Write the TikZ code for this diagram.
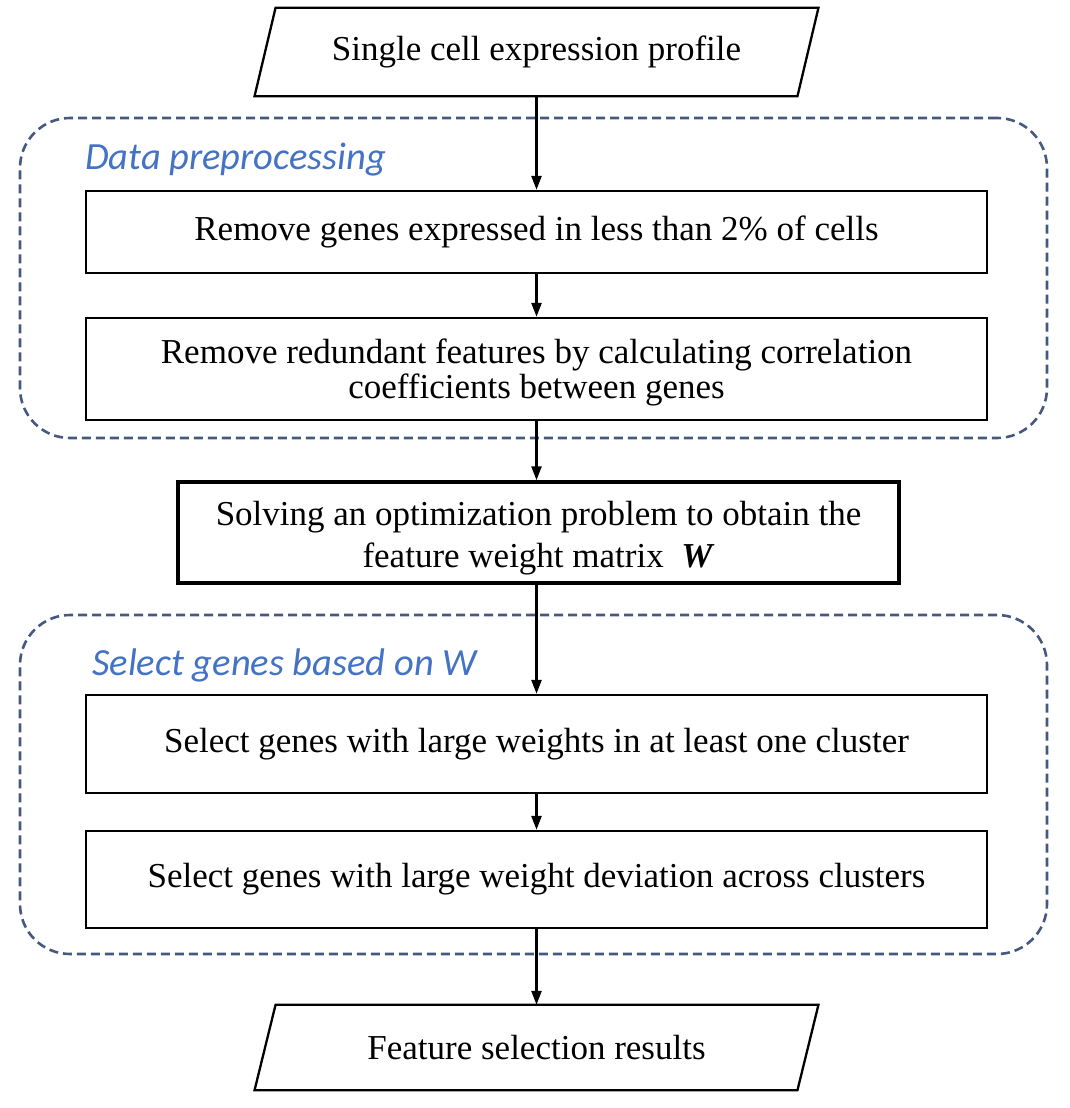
\documentclass[tikz,border=0pt]{standalone}
\usepackage{fontspec}
\setmainfont{Liberation Serif}
\newfontfamily\labelfont{Carlito}
\usetikzlibrary{arrows.meta}
\definecolor{grpline}{RGB}{68,88,128}
\definecolor{grptext}{RGB}{68,114,196}
\newcommand\lowr[2]{\raisebox{-#1}[\height][\depth]{#2}}
\tikzset{
  x=1pt, y=-1pt,
  boxtext/.style={font=\fontsize{35}{38}\selectfont, align=center, inner sep=0pt},
  procbox/.style={boxtext, draw=black, line width=2.3pt, minimum width=901pt},
  keybox/.style={boxtext, draw=black, line width=3.5pt, minimum width=721pt, minimum height=101pt},
  iobox/.style={boxtext, minimum width=542.5pt},
  groupbox/.style={draw=grpline, line width=2.6pt, dash pattern=on 9pt off 5pt, rounded corners=50pt, inner sep=0pt},
  grouplabel/.style={font=\labelfont\itshape\fontsize{38.5}{44}\selectfont, text=grptext, anchor=base west, inner sep=0pt},
  flow/.style={line width=2.5pt, -{Triangle[length=14pt,width=10pt]}},
  para/.style={line width=2.3pt, line join=miter}
}
\begin{document}
\begin{tikzpicture}
\useasboundingbox (0,0) rectangle (1069,1108);
\fill[white] (0,0) rectangle (1069,1108);

% group boxes
\node[groupbox, minimum width=1027pt, minimum height=320pt] (g1) at (533.5,278) {};
\node[groupbox, minimum width=1027pt, minimum height=339pt] (g2) at (533.5,784.5) {};
\node[grouplabel] (l1) at (85,169) {Data preprocessing};
\node[grouplabel] (l2) at (92,675) {Select genes based on W};

% input / output
\node[iobox, minimum height=88pt] (in) at (536.5,52) {Single cell expression profile};
\draw[para] ([xshift=10.5pt]in.north west) -- ([xshift=10.5pt]in.north east) -- ([xshift=-10.5pt]in.south east) -- ([xshift=-10.5pt]in.south west) -- cycle;

\node[procbox, minimum height=82pt] (b1) at (536.5,232) {Remove genes expressed in less than 2\% of cells};
\node[procbox, minimum height=102pt, font=\fontsize{35}{35}\selectfont] (b2) at (536.5,369) {\lowr{3pt}{Remove redundant features by calculating correlation}\\\lowr{3pt}{coefficients between genes}};
\node[keybox, font=\fontsize{35}{42}\selectfont] (b3) at (538.5,532.5) {\lowr{6pt}{Solving an optimization problem to obtain the}\\\lowr{6pt}{feature weight matrix\ \ \textbf{\textit{W}}}};
\node[procbox, minimum height=98pt] (b4) at (536.5,744) {Select genes with large weights in at least one cluster};
\node[procbox, minimum height=97pt] (b5) at (536.5,879.5) {Select genes with large weight deviation across clusters};

\node[iobox, minimum height=85pt] (out) at (536.5,1047.5) {Feature selection results};
\draw[para] ([xshift=10.5pt]out.north west) -- ([xshift=10.5pt]out.north east) -- ([xshift=-10.5pt]out.south east) -- ([xshift=-10.5pt]out.south west) -- cycle;

% connectors
\draw[flow] (in.south) -- (b1.north);
\draw[flow] (b1.south) -- (b2.north);
\draw[flow] (b2.south) -- (b2.south |- b3.north);
\draw[flow] (b2.south |- b3.south) -- (b4.north);
\draw[flow] (b4.south) -- (b5.north);
\draw[flow] (b5.south) -- (out.north);
\end{tikzpicture}
\end{document}
